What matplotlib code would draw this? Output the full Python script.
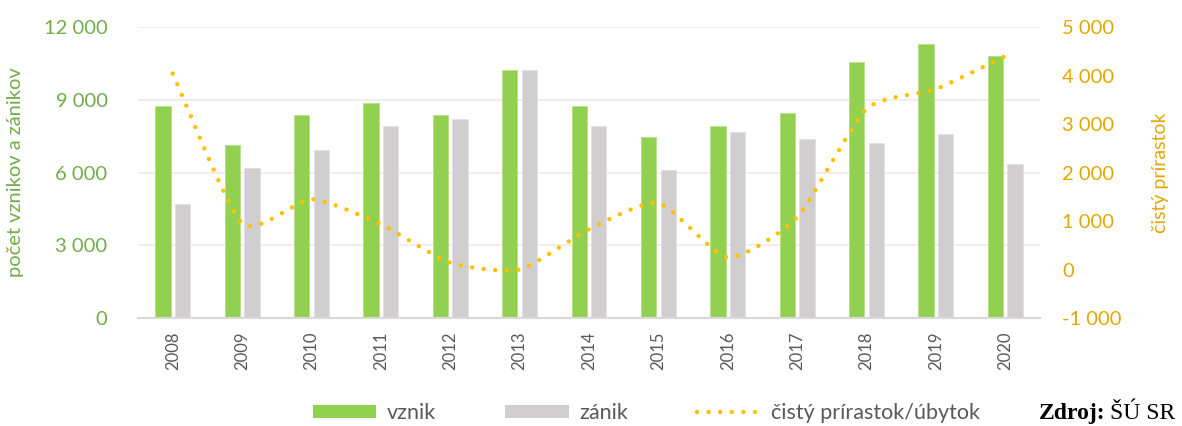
#!/usr/bin/env python3
import numpy as np
from matplotlib import pyplot as plt
from matplotlib.patches import Patch
from matplotlib.lines import Line2D
from matplotlib.ticker import FuncFormatter

years = ['2008', '2009', '2010', '2011', '2012', '2013', '2014',
         '2015', '2016', '2017', '2018', '2019', '2020']
vznik = [8740, 7120, 8360, 8850, 8360, 10210, 8730, 7450, 7930, 8450, 10540, 11300, 10790]
zanik = [4700, 6200, 6930, 7930, 8220, 10240, 7900, 6090, 7680, 7370, 7230, 7570, 6360]
prirastok = [4040, 950, 1450, 930, 140, 0, 830, 1370, 250, 1080, 3310, 3720, 4400]

GREEN = '#92D050'
GRAY = '#D0CECE'
GOLD = '#FFC000'
LEFT_TXT = '#70AD47'
RIGHT_TXT = '#E2A800'

plt.rcParams['font.family'] = ['Lato', 'DejaVu Sans']


def smooth(xs, ys, c=0.62, n=30):
    # smoothed line like Excel's (cardinal spline through the points)
    xs = np.asarray(xs, float)
    ys = np.asarray(ys, float)
    px = np.concatenate([[xs[0]], xs, [xs[-1]]])
    py = np.concatenate([[ys[0]], ys, [ys[-1]]])
    ox, oy = [], []
    t = np.linspace(0, 1, n, endpoint=False)
    h00 = 2 * t ** 3 - 3 * t ** 2 + 1
    h10 = t ** 3 - 2 * t ** 2 + t
    h01 = -2 * t ** 3 + 3 * t ** 2
    h11 = t ** 3 - t ** 2
    for i in range(1, len(px) - 2):
        for p, out in ((px, ox), (py, oy)):
            m1 = c * (p[i + 1] - p[i - 1]) / 2
            m2 = c * (p[i + 2] - p[i]) / 2
            out.extend(h00 * p[i] + h10 * m1 + h01 * p[i + 1] + h11 * m2)
    ox.append(xs[-1])
    oy.append(ys[-1])
    return np.array(ox), np.array(oy)


def fmt(v, pos):
    return f'{int(round(v)):,}'.replace(',', ' ')


fig = plt.figure(figsize=(11.82, 4.26), dpi=100)
ax = fig.add_axes([0.1168, 0.2535, 0.763, 0.6831])
ax2 = ax.twinx()

x = np.arange(len(years))
w = 0.22
gap = 0.062
ax.bar(x - (w + gap) / 2, vznik, w, color=GREEN, edgecolor='#B5DF8A', linewidth=0.6, zorder=2)
ax.bar(x + (w + gap) / 2, zanik, w, color=GRAY, edgecolor='#E2E1E1', linewidth=0.6, zorder=2)

ax.set_xlim(-0.5, len(years) - 0.5)
ax.set_ylim(0, 12000)
ax.set_yticks([0, 3000, 6000, 9000, 12000])
ax.yaxis.set_major_formatter(FuncFormatter(fmt))
ax.grid(axis='y', color='#EDEDED', linewidth=1.3, zorder=0)
ax.set_axisbelow(True)
ax.set_xticks(x)
ax.set_xticklabels(years, rotation=90, fontsize=12, color='#595959')
ax.tick_params(axis='x', length=0, pad=10)
ax.tick_params(axis='y', length=0, labelsize=14.5, labelcolor=LEFT_TXT, pad=22)
ax.set_ylabel('počet vznikov a zánikov', fontsize=14.5, color=LEFT_TXT, labelpad=14)

sx, sy = smooth(x, prirastok)
ax2.plot(sx, sy, color=GOLD, linewidth=3.2, linestyle=(0, (0.01, 2.6)),
         dash_capstyle='round', zorder=3)
ax2.set_ylim(-1000, 5000)
ax2.set_yticks([-1000, 0, 1000, 2000, 3000, 4000, 5000])
ax2.yaxis.set_major_formatter(FuncFormatter(fmt))
ax2.tick_params(axis='y', length=0, labelsize=14.5, labelcolor=RIGHT_TXT, pad=16)
ax2.set_ylabel('čistý prírastok', fontsize=14, color=RIGHT_TXT, labelpad=22)

for a in (ax, ax2):
    for s in ('top', 'left', 'right'):
        a.spines[s].set_visible(False)
    a.spines['bottom'].set_color('#D9D9D9')
    a.spines['bottom'].set_linewidth(1.5)

handles = [Patch(facecolor=GREEN, label='vznik'),
           Patch(facecolor=GRAY, label='zánik'),
           Line2D([], [], color=GOLD, linewidth=3.2, linestyle=(0, (0.01, 2.6)),
                  dash_capstyle='round', label='čistý prírastok/úbytok')]
fig.legend(handles=handles, loc='center', bbox_to_anchor=(0.547, 0.03), ncol=3,
           frameon=False, fontsize=15.5, labelcolor='#595959', handlelength=2.95,
           handleheight=0.6, handletextpad=0.5, columnspacing=3.2)

fig.text(0.879, 0.03, 'Zdroj:', fontsize=17, fontweight='bold', va='center',
         family='Liberation Serif')
fig.text(0.939, 0.03, 'ŠÚ SR', fontsize=17, va='center', family='Liberation Serif')

fig.savefig('out.png', dpi=100)
